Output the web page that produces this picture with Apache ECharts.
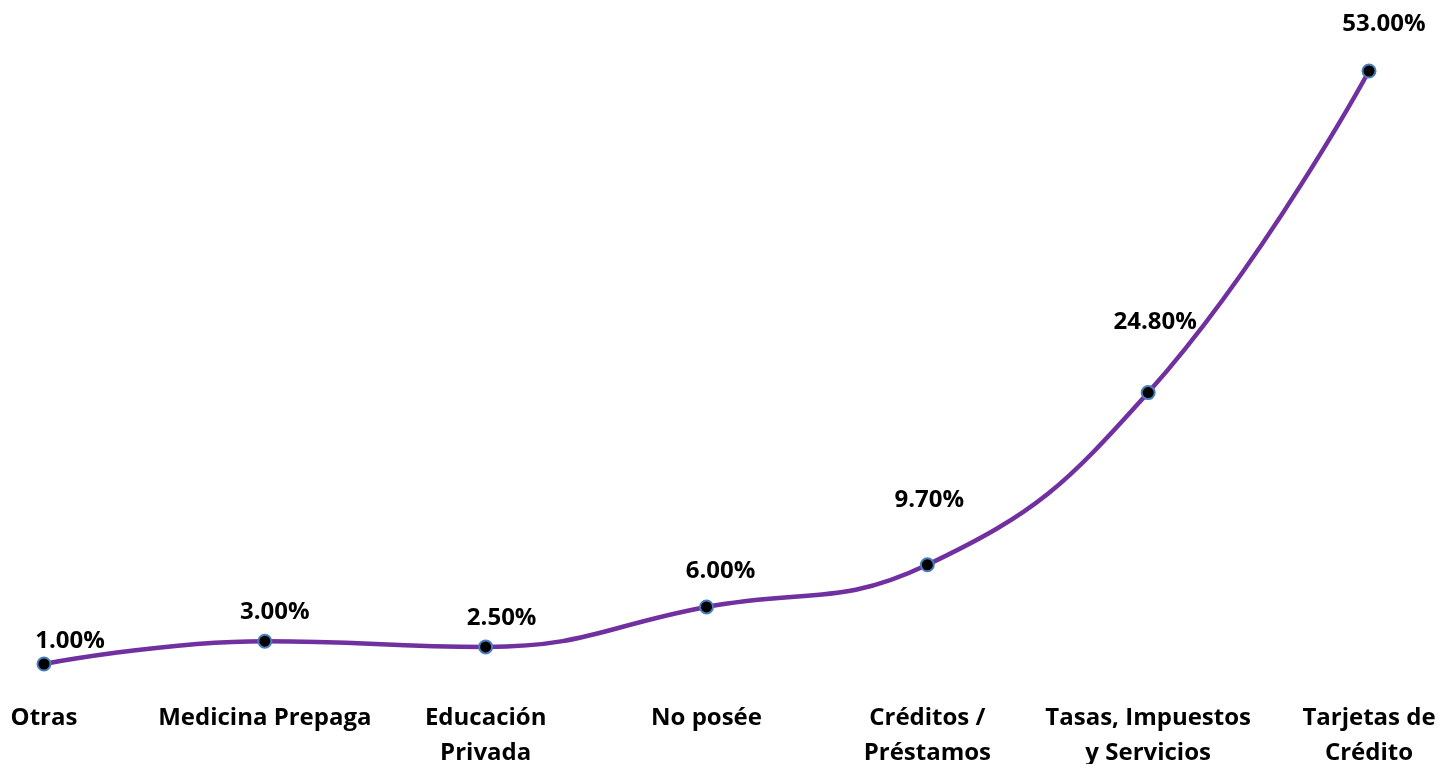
<!DOCTYPE html>
<html>
<head>
<meta charset="utf-8">
<script src="https://cdn.jsdelivr.net/npm/echarts@6/dist/echarts.min.js"></script>
<style>
  html, body { margin: 0; padding: 0; background: #fff; }
  #chart { width: 1440px; height: 764px; }
</style>
</head>
<body>
<div id="chart"></div>
<script>
// categorias y porcentajes
const categories = ['Otras', 'Medicina Prepaga', 'Educación\nPrivada', 'No posée', 'Créditos /\nPréstamos', 'Tasas, Impuestos\ny Servicios', 'Tarjetas de\nCrédito'];
const values = [1.0, 3.0, 2.5, 6.0, 9.7, 24.8, 53.0];
// desplazamiento de cada etiqueta respecto del punto
const labelOffsets = [[26, -23], [10, -29], [16, -29], [14, -36], [2, -65], [7, -70], [15, -47]];

const chart = echarts.init(document.getElementById('chart'), null, { renderer: 'canvas' });
const font = '"Open Sans", Lato, sans-serif';

const option = {
    backgroundColor: '#ffffff',
    animation: false,
    grid: { left: 44, right: 71, top: 71, bottom: 88.6, containLabel: false, outerBoundsMode: 'none' },
    xAxis: {
        type: 'category',
        data: categories,
        boundaryGap: false,
        axisLine: { show: false },
        axisTick: { show: false },
        splitLine: { show: false },
        axisLabel: {
            interval: 0,
            margin: 25,
            color: '#000',
            fontFamily: font,
            fontWeight: 'bold',
            fontSize: 24,
            lineHeight: 35,
            verticalAlign: 'top'
        }
    },
    yAxis: {
        type: 'value',
        min: 0,
        max: 53,
        show: false
    },
    series: [
        {
            type: 'line',
            data: values.map((v, i) => ({
                value: v,
                label: { offset: labelOffsets[i] }
            })),
            smooth: 0.45,
            symbol: 'circle',
            symbolSize: 13,
            lineStyle: { color: '#7030A0', width: 4.5 },
            itemStyle: { color: '#000', borderColor: '#4A7EBB', borderWidth: 2 },
            label: {
                show: true,
                position: 'inside',
                formatter: p => p.value.toFixed(2) + '%',
                color: '#000',
                fontFamily: font,
                fontWeight: 'bold',
                fontSize: 24
            },
            z: 3
        }
    ]
};
chart.setOption(option);
</script>
</body>
</html>
